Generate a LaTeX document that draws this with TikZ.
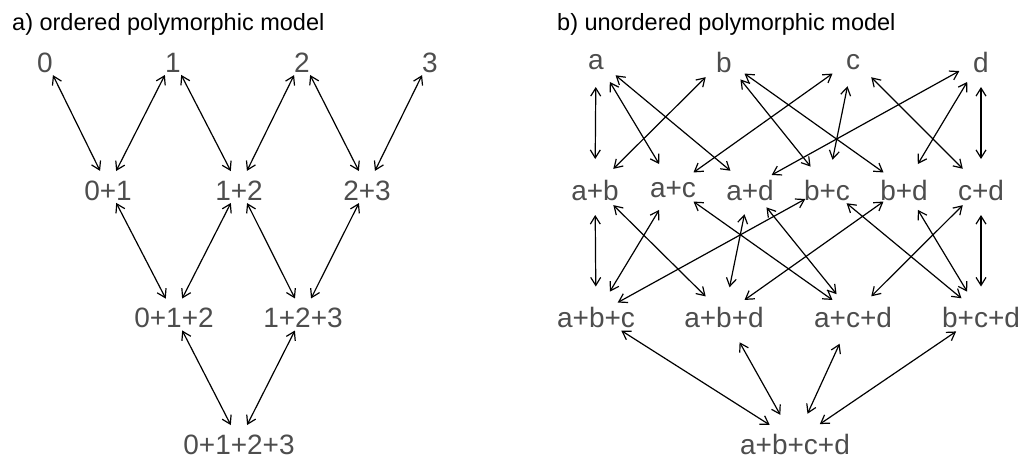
\documentclass[tikz,border=0pt]{standalone}
\usepackage{fontspec}
\setmainfont{Liberation Sans}
\usetikzlibrary{arrows.meta,shapes.geometric}
\definecolor{labelgray}{HTML}{4D4D4D}

\begin{document}
\begin{tikzpicture}[x=1pt,y=-1pt,>={Straight Barb[length=8pt,width=10pt]},
  title/.style={font=\fontsize{23.5}{27}\selectfont,inner sep=0pt,anchor=base west},
  lbl/.style={font=\fontsize{28}{31}\selectfont,text=labelgray,inner sep=0pt,
    text depth=0pt,yshift=-3pt},
  tall/.style={text height=20.1pt},
  low/.style={text height=14.6pt},
  lsite/.style={ellipse,minimum width=30pt,minimum height=38pt,inner sep=0pt,outer sep=0pt},
  rsite/.style={ellipse,minimum width=48pt,minimum height=56pt,inner sep=0pt,outer sep=0pt},
  link/.style={<->,line width=1.2pt}]
  \useasboundingbox (0,0) rectangle (1036,459);

  % Titles
  \node[title] (ta) at (12,30) {a) ordered polymorphic model};
  \node[title] (tb) at (557,30) {b) unordered polymorphic model};

  % a) ordered model
  \foreach \n/\x/\y/\t in {o0/45/59/0, o1/173/59/1, o2/302/59/2, o3/430/59/3,
      o01/108/187/0+1, o12/239/187/1+2, o23/367/187/2+3,
      o012/174/314.5/0+1+2, o123/303/314.5/1+2+3,
      o0123/239/441/0+1+2+3} {
    \node[lsite,label={[lbl,tall]center:\t}] (\n) at (\x,\y) {};
  }
  \foreach \u/\v in {o0/o01, o1/o01, o1/o12, o2/o12, o2/o23, o3/o23,
      o01/o012, o12/o012, o12/o123, o23/o123, o012/o0123, o123/o0123}
    \draw[link] (\u) -- (\v);

  % b) unordered model
  \foreach \n/\x/\y/\t/\s in {a/596/59/a/low, b/724/59/b/tall, c/853/59/c/low, d/981/59/d/tall,
      ab/595/187/a+b/tall, ac/673/187/a+c/low, ad/750/187/a+d/tall,
      bc/827/187/b+c/tall, bd/904/187/b+d/tall, cd/981/187/c+d/tall,
      abc/596/314.5/a+b+c/tall, abd/724/314.5/a+b+d/tall,
      acd/853/314.5/a+c+d/tall, bcd/981/314.5/b+c+d/tall} {
    \node[rsite,label={[lbl,\s]center:\t}] (\n) at (\x,\y) {};
  }
  \node[rsite,minimum width=60pt,minimum height=60pt,
    label={[lbl,tall]center:a+b+c+d}] (abcd) at (795,441) {};

  \foreach \u/\v in {a/ab, a/ac, a/ad, b/ab, b/bc, b/bd,
      c/ac, c/bc, c/cd, d/ad, d/bd, d/cd,
      ab/abc, ac/abc, bc/abc, ab/abd, ad/abd, bd/abd,
      ac/acd, ad/acd, cd/acd, bc/bcd, bd/bcd, cd/bcd}
    \draw[link] (\u) -- (\v);
  \foreach \u in {abc, abd, acd, bcd}
    \draw[link,shorten <=5pt] (\u) -- (abcd);
\end{tikzpicture}
\end{document}
